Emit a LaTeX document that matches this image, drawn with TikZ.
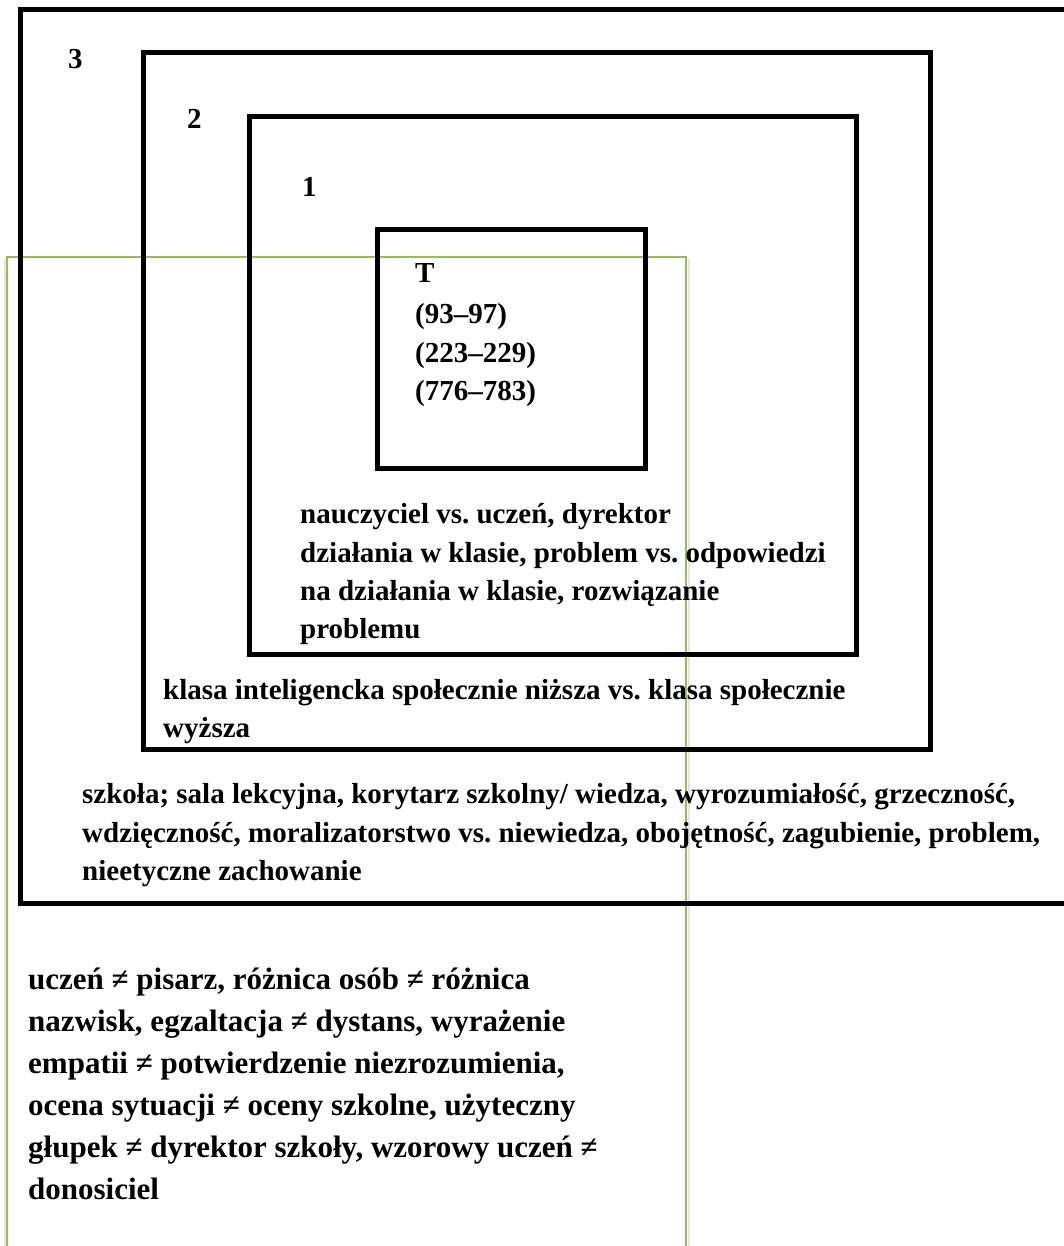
\documentclass[tikz,border=0pt]{standalone}
\usepackage{fontspec}
\setmainfont{Liberation Serif}
\frenchspacing
\begin{document}
\begin{tikzpicture}[x={(1pt,0)},y={(0,-1pt)},
  frame/.style={draw=black,line width=5pt,line join=miter},
  greenframe/.style={draw={rgb,255:red,155;green,187;blue,89},line width=2pt},
  lbl/.style={anchor=base west,inner sep=0pt,font=\bfseries\fontsize{29}{38}\selectfont},
  big/.style={anchor=base west,inner sep=0pt,font=\bfseries\fontsize{31}{42}\selectfont}]
\useasboundingbox (0,0) rectangle (1064,1246);
\clip (0,0) rectangle (1064,1246);
\fill[white] (0,0) rectangle (1064,1246);
% green frame with faint shadow
\draw[black!10,line width=2pt] (4.5,259) -- (4.5,1250);
\draw[black!10,line width=2pt] (688.5,259) -- (688.5,1250);
\draw[greenframe] (7,1260) -- (7,257.5) -- (686,257.5) -- (686,1260);
% black frames
\draw[frame] (1080,9.5) -- (20,9.5) -- (20,903) -- (1080,903);
\draw[frame] (143.5,52.5) rectangle (930.5,749);
\draw[frame] (249.5,116.5) rectangle (856,654);
\draw[frame] (377.5,230) rectangle (645.5,468);
% labels
\node[lbl] (n3) at (68,69) {3};
\node[lbl] (n2) at (187,129) {2};
\node[lbl] (n1) at (302,197) {1};
% T box
\node[lbl] (t1) at (415,283) {T};
\node[lbl] (t2) at (415,323) {(93–97)};
\node[lbl] (t3) at (415,362) {(223–229)};
\node[lbl] (t4) at (415,400) {(776–783)};
% box 1
\node[lbl] (a1) at (300,523) {nauczyciel vs. uczeń, dyrektor};
\node[lbl] (a2) at (300,562) {działania w klasie, problem vs. odpowiedzi};
\node[lbl] (a3) at (300,600) {na działania w klasie, rozwiązanie};
\node[lbl] (a4) at (300,638) {problemu};
% box 2
\node[lbl] (b1) at (163,699) {klasa inteligencka społecznie niższa vs. klasa społecznie};
\node[lbl] (b2) at (163,737) {wyższa};
% box 3
\node[lbl] (c1) at (82,803) {szkoła; sala lekcyjna, korytarz szkolny/ wiedza, wyrozumiałość, grzeczność,};
\node[lbl] (c2) at (82,842) {wdzięczność, moralizatorstwo vs. niewiedza, obojętność, zagubienie, problem,};
\node[lbl] (c3) at (82,880) {nieetyczne zachowanie};
% bottom text
\node[big] (d1) at (28,989) {uczeń ≠ pisarz, różnica osób ≠ różnica};
\node[big] (d2) at (28,1031) {nazwisk, egzaltacja ≠ dystans, wyrażenie};
\node[big] (d3) at (28,1073) {empatii ≠ potwierdzenie niezrozumienia,};
\node[big] (d4) at (28,1115) {ocena sytuacji ≠ oceny szkolne, użyteczny};
\node[big] (d5) at (28,1157) {głupek ≠ dyrektor szkoły, wzorowy uczeń ≠};
\node[big] (d6) at (28,1199) {donosiciel};
\end{tikzpicture}
\end{document}
